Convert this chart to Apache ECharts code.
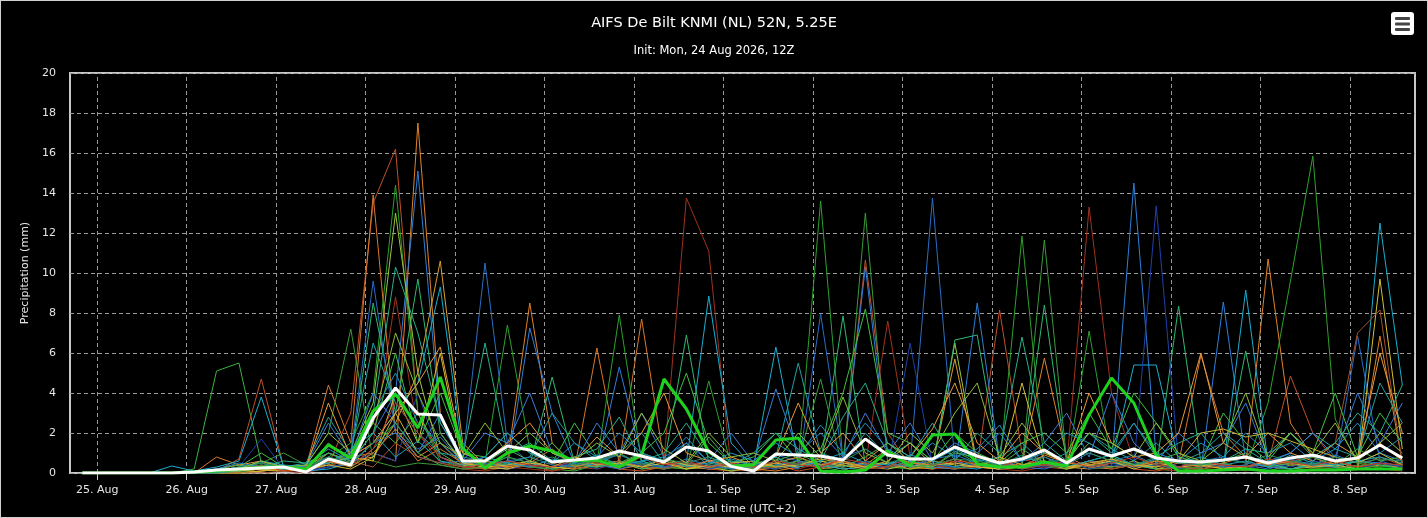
<!DOCTYPE html>
<html>
<head>
<meta charset="utf-8">
<script src="https://cdn.jsdelivr.net/npm/echarts@6/dist/echarts.min.js"></script>
<style>
html,body{margin:0;padding:0;background:#000;}
#c{width:1428px;height:518px;box-sizing:border-box;border:1px solid #d0d0d0;background:#000;}
</style>
</head>
<body>
<div id="c"></div>
<script>
// hours since 25 Aug 00:00 local (UTC+2), 6-hourly steps
var hours = [-4,2,8,14,20,26,32,38,44,50,56,62,68,74,80,86,92,98,104,110,116,122,128,134,140,146,152,158,164,170,176,182,188,194,200,206,212,218,224,230,236,242,248,254,260,266,272,278,284,290,296,302,308,314,320,326,332,338,344,350];
var dayTicks = [0,24,48,72,96,120,144,168,192,216,240,264,288,312,336];
var dayLabels = ['25. Aug','26. Aug','27. Aug','28. Aug','29. Aug','30. Aug','31. Aug','1. Sep','2. Sep','3. Sep','4. Sep','5. Sep','6. Sep','7. Sep','8. Sep'];
var yTicks = [0,2,4,6,8,10,12,14,16,18,20];

var meanValues = [0,0,0,0,0,0.05,0.15,0.2,0.25,0.3, 0.05,0.7,0.4,2.75,4.25,2.95,2.9,0.6,0.6,1.35, 1.15,0.55,0.65,0.75,1.1,0.85,0.55,1.3,1.1,0.33, 0.1,0.95,0.9,0.85,0.65,1.7,0.9,0.7,0.7,1.3, 0.85,0.5,0.7,1.15,0.5,1.2,0.85,1.2,0.75,0.6, 0.55,0.65,0.8,0.5,0.75,0.9,0.6,0.75,1.4,0.75];
var controlValues = [0,0,0,0,0,0.05,0.1,0.2,0.3,0.3, 0.2,1.4,0.75,3.1,3.95,2.25,4.8,1.25,0.25,1.0, 1.35,1.1,0.6,0.65,0.3,0.9,4.7,3.2,1.05,0.35, 0.4,1.65,1.75,0.1,0.05,0.15,1.1,0.35,1.9,1.95, 0.45,0.3,0.3,0.55,0.35,2.9,4.75,3.5,0.9,0.1, 0.1,0.15,0.2,0.1,0.1,0.15,0.15,0.2,0.2,0.2];

var m01 = [0,0,0,0,0,0.2,5.1,5.5,0.5,0.2, 0.1,0.6,0.3,1.2,2.5,1.0,0.4,0.2,0.3,0.8, 0.5,0.2,0.1,0.4,1.0,0.3,0.2,0.5,0.3,0.1, 0.2,0.5,0.8,0.3,0.1,0.6,0.4,0.2,0.3,1.1, 0.5,0.2,0.4,0.8,0.3,0.6,0.9,0.4,0.2,0.1, 0.3,0.5,0.2,0.1,0.4,0.6,0.3,0.2,0.5,0.3];
var m02 = [0,0,0,0,0,0,0.1,0.7,4.7,0.3, 0.1,0.4,3.0,13.5,16.2,3.0,0.8,0.3,0.5,0.2, 0.4,0.1,0.3,0.6,0.2,0.1,0.3,0.5,0.2,0.1, 0.2,0.4,0.1,0.3,0.6,10.65,2.0,0.3,0.2,0.5, 0.4,8.15,1.0,0.3,0.2,0.4,0.6,0.2,0.1,0.3, 0.2,0.4,0.3,0.5,4.85,2.0,0.6,0.3,0.8,0.4];
var m03 = [0,0,0,0,0,0,0,0,0.2,0.1, 0,0.3,0.8,1.5,8.8,2.0,0.5,0.2,0.1,0.3, 0.2,0.1,0.3,0.2,0.5,0.8,0.6,13.75,11.1,0.2, 0.1,0.3,0.2,0.5,0.3,0.4,7.6,0.8,0.2,0.3, 0.5,0.2,0.1,0.3,0.4,13.3,4.0,0.6,0.2,0.1, 0.2,0.3,0.1,0.4,0.5,0.2,0.3,0.6,0.2,0.1];
var m04 = [0,0,0,0,0,0,0,0,0.1,0.2, 0.1,0.5,0.8,1.0,0.6,17.5,3.0,0.4,0.2,0.6, 8.5,1.5,0.3,0.5,0.2,0.4,0.3,0.2,0.6,0.3, 0.2,0.1,0.3,0.8,0.5,0.4,1.2,0.3,0.2,0.6, 0.3,0.2,0.5,5.75,0.8,0.3,0.2,0.4,0.6,0.3, 0.5,0.2,0.4,10.7,2.5,0.8,0.3,0.2,6.85,0.5];
var m05 = [0,0,0,0,0,0,0.8,0.4,0.2,0.1, 0.3,4.4,1.5,13.9,2.0,0.6,1.2,0.5,0.3,0.2, 0.4,0.3,0.2,6.25,0.5,7.7,0.6,0.3,0.2,0.4, 0.1,0.3,0.6,0.2,0.4,0.3,0.2,0.5,0.3,0.2, 0.4,0.2,0.3,0.5,0.2,0.6,0.3,0.4,0.2,0.5, 5.9,2.0,0.8,0.3,0.2,0.4,0.6,0.3,0.5,0.2];
var m06 = [0,0,0,0,0,0,0,0.1,0.3,0.2, 0.1,0.3,0.5,2.0,4.0,15.1,2.5,0.6,0.3,0.2, 7.25,3.0,0.5,0.3,5.3,0.8,0.2,0.4,0.3,0.6, 0.2,0.4,0.6,0.3,0.5,10.3,1.0,0.4,0.3,0.2, 8.5,0.6,0.3,0.2,0.5,0.4,0.3,14.5,0.8,0.3, 0.2,8.55,0.6,0.3,0.2,0.4,0.3,0.6,0.5,0.3];
var m07 = [0,0,0,0,0,0,0,0,0.3,0.2, 0.4,0.8,1.5,4.0,14.4,3.0,0.6,0.3,0.5,7.4, 1.2,0.4,0.3,0.5,7.9,0.6,0.3,0.2,4.6,0.4, 0.2,0.3,0.5,13.6,0.6,0.4,0.3,0.2,0.5,0.3, 0.6,0.3,11.85,0.4,0.2,7.1,0.5,0.3,0.6,0.2, 0.3,0.5,0.2,3.5,9.6,15.85,2.7,0.5,0.3,0.4];
var m08 = [0,0,0,0,0,0,0,0.1,0.2,0.1, 0.2,0.6,1.0,3.5,13.0,5.0,0.8,0.4,0.2,0.3, 0.5,0.3,0.2,0.4,0.6,0.3,0.5,0.2,0.3,0.1, 0.3,0.2,0.4,0.6,0.3,0.5,0.2,0.4,0.3,6.5, 0.4,0.2,0.3,0.5,0.2,0.4,0.3,0.6,0.2,0.3, 0.2,0.4,0.3,0.5,0.2,0.3,0.4,0.6,2.0,1.0];
var m09 = [0,0,0,0,0,0,0,0,0.1,0.2, 0.3,1.0,0.6,0.8,2.5,5.0,10.6,1.5,0.4,0.3, 0.6,0.2,0.4,0.3,0.5,0.2,0.3,0.4,0.2,0.3, 0.5,0.3,0.6,0.4,0.2,0.3,0.5,0.2,0.4,5.7, 0.3,0.2,0.4,0.6,0.3,0.2,0.5,0.4,0.3,0.6, 0.4,0.3,0.2,0.5,0.4,0.3,0.6,0.2,0.4,0.3];
var m10 = [0,0,0,0,0.35,0.1,0.3,0.6,3.8,0.3, 0.1,0.2,0.5,1.5,3.0,4.5,9.3,1.0,0.5,0.4, 0.3,0.2,0.5,0.4,0.3,0.6,0.2,0.5,8.85,1.5, 0.3,6.3,0.5,0.4,0.2,0.3,0.5,0.6,0.4,0.3, 0.2,0.5,0.3,0.4,0.6,0.3,0.5,5.4,5.4,0.6, 0.4,0.3,9.15,0.5,0.2,0.4,0.3,0.6,12.5,4.4];
var m11 = [0,0,0,0,0,0,0,0.1,0.2,0.3, 0.2,0.4,0.8,8.5,3.0,9.7,2.0,0.5,0.3,0.6, 0.4,4.8,0.5,0.3,0.6,0.2,0.4,6.9,0.5,0.3, 0.2,0.4,0.3,0.5,7.85,0.4,0.3,0.6,0.2,6.65, 6.9,0.4,0.3,8.4,0.5,0.3,0.6,0.4,0.2,8.35, 0.5,0.3,6.1,0.4,0.2,0.5,0.3,0.6,0.4,0.2];
var m12 = [0,0,0,0,0,0,0,0.2,0.4,0.1, 0.3,0.5,1.0,9.6,2.0,0.8,0.5,0.6,10.5,1.5, 0.5,0.3,0.6,0.4,0.2,0.5,0.3,0.4,0.6,0.2, 0.3,0.5,0.2,7.95,0.6,0.4,0.3,0.5,13.75,0.6, 0.3,0.5,0.2,0.4,0.3,0.6,0.5,0.3,0.4,0.2, 0.6,0.3,0.4,0.2,0.5,0.3,0.4,6.85,0.6,0.3];
var m13 = [0,0,0,0,0,0,0,0.2,0.5,1.0, 0.4,2.0,7.2,0.6,0.3,0.5,0.4,0.2,0.3,0.5, 0.3,0.2,0.4,0.6,0.3,0.5,0.2,0.4,0.3,0.2, 0.4,0.3,0.6,4.7,0.2,13.0,0.5,0.3,0.4,0.2, 0.5,0.3,0.4,11.65,0.6,0.2,0.3,0.5,0.4,0.3, 0.2,0.4,0.3,0.6,0.5,0.3,0.2,0.4,0.3,0.5];
var m14 = [0,0,0,0,0,0,0,0.3,1.7,0.2, 0.1,0.3,0.5,1.0,0.6,4.0,0.8,0.3,0.5,0.2, 0.4,0.3,0.5,0.2,0.6,0.4,0.3,0.5,0.2,0.4, 0.3,0.2,0.5,0.4,0.3,0.6,0.2,6.5,0.4,0.3, 0.5,0.2,0.4,0.3,0.6,0.2,0.4,0.3,13.35,0.5, 0.3,0.4,0.2,0.5,0.3,0.6,0.4,0.2,0.5,0.3];
var m15 = [0,0,0,0,0,0,0,0,0.1,0.2, 0.3,0.5,0.8,0.6,4.0,1.5,6.0,0.5,0.3,0.2, 0.5,0.3,0.2,0.4,0.6,0.3,0.5,0.2,0.4,0.3, 0.2,0.5,0.3,0.6,0.4,0.2,0.5,0.3,0.6,0.4, 0.3,0.2,4.5,0.5,0.3,0.4,0.6,0.2,0.5,0.3, 0.4,0.2,0.3,0.6,0.5,0.3,0.4,0.2,9.7,1.2];
var m16 = [0,0,0,0,0,0,0,0,0,0.1, 0.2,0.4,0.6,0.3,1.5,0.8,0.5,0.3,0.2,0.4, 0.3,0.5,0.2,0.4,0.6,0.3,0.2,0.5,0.3,0.4, 0.2,0.3,0.5,0.4,0.6,0.2,0.3,0.5,0.4,0.2, 0.3,0.5,0.2,0.4,0.3,0.6,0.2,0.4,0.5,0.3, 0.2,0.4,0.3,0.5,0.6,0.8,1.5,7.0,8.15,0.4];
var m17 = [0,0,0,0,0,0,0.1,0.2,0.4,0.3, 0.5,2.8,1.0,6.5,3.5,2.0,1.0,0.8,0.6,0.5, 0.8,3.0,1.5,0.6,1.0,2.0,0.5,1.5,0.3,0.6, 0.4,0.8,5.5,1.0,0.6,2.0,0.8,1.5,0.6,1.2, 0.6,0.8,1.5,0.5,1.0,2.0,1.2,0.6,1.5,0.5, 1.0,2.0,1.2,0.5,1.0,2.0,1.2,0.8,4.5,2.5];
var m18 = [0,0,0,0,0,0,0.1,0.3,1.0,0.3, 0.2,1.5,0.6,2.0,6.0,1.5,4.0,1.0,0.8,2.0, 1.0,0.5,2.5,0.8,0.4,1.0,2.0,5.0,1.5,0.5, 0.8,2.0,0.6,1.2,4.0,8.2,2.0,1.5,0.6,2.0, 1.0,0.5,1.5,2.0,1.0,3.0,1.2,4.0,2.5,0.8, 0.5,3.0,1.5,0.6,2.0,1.0,4.0,0.8,3.0,1.5];
var m19 = [0,0,0,0,0,0,0,0.2,0.6,0.3, 0.4,2.5,0.8,4.0,2.5,1.0,3.0,0.6,2.0,1.5, 4.0,1.0,0.5,2.5,1.0,3.0,0.8,1.5,0.6,2.0, 0.5,4.2,1.0,2.0,0.8,3.0,1.0,2.5,0.6,1.5, 1.0,2.0,0.6,1.5,3.0,0.8,4.0,1.5,0.5,2.0, 1.0,1.5,3.5,0.6,1.0,2.0,0.8,4.0,1.5,3.5];
var m20 = [0,0,0,0,0,0,0.2,0.4,0.6,0.2, 0.3,3.5,0.8,1.5,3.0,4.5,6.3,1.0,0.6,1.5, 2.5,1.0,0.6,1.8,0.8,2.0,4.0,1.0,0.6,0.8, 0.4,0.8,3.5,1.0,2.0,0.6,1.5,0.8,2.2,4.5, 1.5,0.6,2.0,1.0,0.5,4.0,1.5,0.8,1.0,2.0, 6.0,1.5,0.8,2.0,1.0,0.6,1.5,0.8,6.0,2.0];
var m21 = [0,0,0,0,0,0,0,0.1,0.3,0.6, 0.5,1.0,0.5,3.0,10.3,7.0,2.5,0.8,6.5,1.0, 1.5,0.6,0.8,1.2,2.8,0.6,1.0,2.5,0.8,0.4, 1.0,2.0,1.2,0.6,2.8,4.5,1.5,0.8,2.5,0.6, 2.0,1.0,6.8,1.5,0.6,2.0,1.0,2.5,0.8,1.5, 2.0,0.6,1.2,1.0,2.0,0.8,1.5,3.0,2.0,4.4];
var m22 = [0,0,0,0,0,0.05,0.1,0.3,0.5,0.2, 0.3,0.8,0.4,1.5,2.0,1.2,1.8,0.5,0.4,0.6, 0.8,0.4,0.3,0.6,0.9,0.5,0.3,0.7,0.4,0.2, 0.3,0.9,0.6,0.4,0.8,1.2,0.5,0.3,0.7,0.9, 0.5,0.3,0.6,0.8,0.4,1.0,0.6,0.9,0.4,0.3, 0.6,0.8,0.5,0.3,0.7,0.4,0.9,0.5,1.0,0.6];
var m23 = [0,0,0,0,0,0,0.2,0.4,0.3,0.2, 0.1,1.0,0.6,2.5,1.5,3.0,1.0,0.3,0.5,1.2, 0.6,1.5,0.4,0.3,0.5,1.0,0.6,0.4,1.8,0.5, 0.2,0.6,1.0,0.4,0.3,0.8,1.5,0.6,0.3,1.0, 0.8,0.4,1.2,0.5,0.3,1.5,0.8,0.4,0.6,1.0, 0.4,0.6,1.0,0.3,0.5,0.8,0.4,1.2,0.6,0.8];
var m24 = [0,0,0,0,0,0,0.1,0.2,0.3,0.1, 0.2,0.6,0.3,1.0,2.2,0.8,1.5,0.4,0.6,0.3, 0.5,1.2,0.3,0.6,0.4,0.9,0.5,0.3,0.6,0.4, 0.3,0.5,0.8,0.4,0.6,0.3,1.0,0.5,0.4,0.7, 0.4,0.6,0.3,0.9,0.5,0.4,0.7,0.3,0.6,0.5, 0.3,0.5,0.8,0.4,0.6,0.3,0.5,0.7,1.5,0.6];
var m25 = [0,0,0,0,0,0.1,0.2,0.2,0.6,0.4, 0.3,0.5,1.2,2.0,0.8,1.6,0.6,0.4,0.8,0.5, 0.3,0.7,0.5,0.9,0.4,0.6,0.8,0.3,0.5,0.7, 0.4,0.8,0.3,0.6,1.0,0.5,0.4,0.9,0.6,0.3, 0.7,0.4,0.8,0.5,0.3,0.6,0.9,0.4,0.7,0.5, 0.8,0.4,0.6,0.3,0.9,0.5,0.4,0.6,0.8,0.5];
var m26 = [0,0,0,0,0,0,0.1,0.1,0.2,0.3, 0.2,0.4,0.2,0.8,3.0,1.0,2.0,0.5,0.3,0.4, 0.6,0.3,0.8,0.4,0.5,0.3,0.7,0.4,0.3,0.5, 0.6,0.3,0.4,0.7,0.5,0.3,0.6,1.5,0.4,0.5, 0.3,0.8,0.4,0.6,0.3,0.5,0.7,0.4,0.3,0.6, 2.0,2.2,1.8,2.0,1.6,1.2,0.8,0.5,1.0,0.4];
var m27 = [0,0,0,0,0,0,0.1,0.2,0.4,0.1, 0.3,0.6,0.4,1.2,3.5,2.0,0.8,0.3,0.4,0.6, 0.4,0.3,0.6,0.5,0.3,0.8,0.4,0.6,0.3,0.5, 0.3,0.6,0.4,0.3,0.7,0.5,0.3,0.8,0.4,0.6, 0.5,0.3,0.7,0.4,0.6,0.3,0.5,0.8,0.4,0.3, 0.6,0.4,0.3,0.7,0.5,0.4,0.6,0.3,0.5,0.4];
var m28 = [0,0,0,0,0,0,0.1,0.3,0.5,0.3, 0.2,0.8,0.5,1.5,2.5,1.0,2.0,0.6,0.4,0.8, 0.5,0.8,0.4,0.6,1.0,0.4,0.7,0.5,0.8,0.3, 0.5,0.7,0.4,0.9,0.6,1.2,0.5,0.8,0.4,0.7, 0.6,0.4,0.9,0.5,0.7,1.0,0.6,0.4,0.8,0.5, 0.4,0.7,0.5,0.9,0.6,0.4,0.8,0.5,0.7,0.6];
var m29 = [0,0,0,0,0,0,0.2,0.5,0.3,0.2, 0.4,1.2,0.6,3.0,5.0,2.5,1.5,0.5,0.8,2.0, 1.0,0.5,1.5,0.8,2.0,1.0,0.6,1.8,0.5,1.0, 0.6,1.5,0.8,2.4,1.0,2.5,1.2,0.6,1.5,0.8, 1.2,2.4,0.6,1.0,2.0,1.5,0.8,2.5,1.0,0.6, 1.5,0.8,2.0,1.0,1.5,0.6,1.2,2.5,1.0,1.8];
var m30 = [0,0,0,0,0,0,0.1,0.2,0.6,0.3, 0.4,2.0,1.0,2.5,7.0,4.0,1.5,0.8,2.5,1.0, 2.0,1.0,0.6,1.5,0.8,3.0,1.2,0.5,2.0,0.8, 1.0,0.6,2.0,0.8,3.8,1.0,0.5,2.0,1.0,3.0, 4.5,0.8,2.5,1.0,0.6,2.0,1.5,0.8,2.5,1.0, 0.6,1.5,4.0,0.8,2.0,1.0,2.5,0.6,1.5,2.5];

var members = [m01,m02,m03,m04,m05,m06,m07,m08,m09,m10,m11,m12,m13,m14,m15,m16,m17,m18,m19,m20,m21,m22,m23,m24,m25,m26,m27,m28,m29,m30];
var memberColors = ['#3cb043','#c0502a','#a0321e','#e0822a','#d8782c','#2f7ed8','#2ca02c','#9cc43c','#d9a030','#1aadce','#2eb872','#2b6cc4','#3a9a3a','#2040a8','#d4c035','#a0522d','#20a0a0','#40c040','#3a7bd5','#e89a3c','#27ae8a','#2878b8','#4caf50','#d9822b','#17a2b8','#c9b83a','#c0392b','#2e8b57','#1e90c0','#8fbc3a'];

function pairs(vals){ return vals.map(function(v,i){ return [hours[i], v]; }); }

var series = [];
series.push({
  type:'line', data:[], silent:true, z:1,
  markLine:{ silent:true, symbol:['none','none'], z:1, animation:false,
    label:{show:false},
    lineStyle:{color:'#9a9a9a', type:[4,3], width:1},
    data: dayTicks.map(function(h){ return {xAxis:h}; }) }
});
members.forEach(function(m, k){
  series.push({type:'line', name:'m'+(k+1), data:pairs(m), symbol:'none', z:2,
    lineStyle:{width:1, color:memberColors[k]}, itemStyle:{color:memberColors[k]}});
});
series.push({type:'line', name:'control', data:pairs(controlValues), symbol:'none', z:3,
  lineStyle:{width:3, color:'#1fd21f'}, itemStyle:{color:'#1fd21f'}});
series.push({type:'line', name:'mean', data:pairs(meanValues), symbol:'none', z:4,
  lineStyle:{width:3, color:'#ffffff'}, itemStyle:{color:'#ffffff'}});

var chart = echarts.init(document.getElementById('c'), null, {renderer:'canvas'});
chart.setOption({
  backgroundColor:'#000',
  animation:false,
  textStyle:{fontFamily:'DejaVu Sans'},
  title:[
    {text:'AIFS De Bilt KNMI (NL) 52N, 5.25E', left:'center', top:10,
     textStyle:{color:'#ffffff', fontSize:14.5, fontWeight:'normal', fontFamily:'DejaVu Sans'}},
    {text:'Init: Mon, 24 Aug 2026, 12Z', left:'center', top:39,
     textStyle:{color:'#ffffff', fontSize:11.5, fontWeight:'normal', fontFamily:'DejaVu Sans'}}
  ],
  grid:{left:69, top:72, right:12, bottom:44, show:true, borderColor:'#c8c8c8', borderWidth:2,
        backgroundColor:'transparent', outerBoundsMode:'none', containLabel:false},
  xAxis:{
    type:'value', min:-7.3, max:353.4,
    name:'Local time (UTC+2)', nameLocation:'middle', nameGap:31,
    nameTextStyle:{color:'#e6e6e6', fontSize:11, fontFamily:'DejaVu Sans'},
    axisLine:{show:false},
    axisTick:{show:true, customValues:dayTicks, length:7, lineStyle:{color:'#c8c8c8'}},
    axisLabel:{customValues:dayTicks, color:'#e6e6e6', fontSize:11, margin:12, fontFamily:'DejaVu Sans',
      formatter:function(v){ var k = dayTicks.indexOf(v); return k>=0 ? dayLabels[k] : ''; }},
    splitLine:{show:false}
  },
  yAxis:{
    type:'value', min:0, max:20, interval:2,
    name:'Precipitation (mm)', nameLocation:'middle', nameGap:35,
    nameTextStyle:{color:'#e6e6e6', fontSize:11, fontFamily:'DejaVu Sans'},
    axisLine:{show:false}, axisTick:{show:false},
    axisLabel:{color:'#e6e6e6', fontSize:11, margin:14, fontFamily:'DejaVu Sans',
      formatter:function(v){ return yTicks.indexOf(v)>=0 ? String(v) : ''; }},
    splitLine:{show:true, lineStyle:{color:'#9a9a9a', type:[4,3], width:1}}
  },
  graphic:[
    {type:'group', left:1390, top:11, children:[
      {type:'rect', shape:{x:0, y:0, width:23, height:23, r:3}, style:{fill:'#ffffff'}},
      {type:'rect', shape:{x:4, y:5, width:15, height:3, r:1}, style:{fill:'#444444'}},
      {type:'rect', shape:{x:4, y:10.5, width:15, height:3, r:1}, style:{fill:'#444444'}},
      {type:'rect', shape:{x:4, y:16, width:15, height:3, r:1}, style:{fill:'#444444'}}
    ]}
  ],
  series:series
});
</script>
</body>
</html>
